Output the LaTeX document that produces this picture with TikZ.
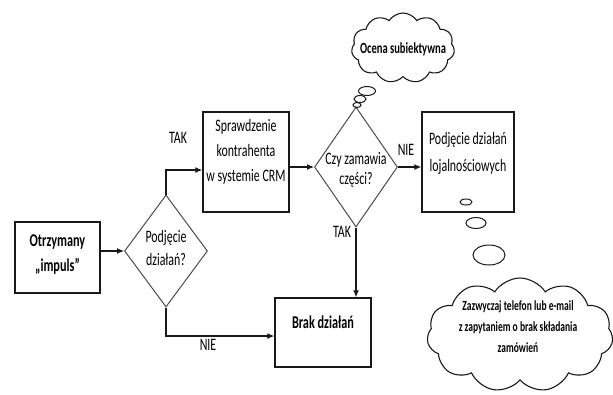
\documentclass[tikz,border=0pt]{standalone}
\usepackage{fontspec}
\setmainfont{Carlito}[FakeStretch=0.68]
\usetikzlibrary{shapes.geometric,shapes.symbols,arrows.meta}
\definecolor{lineblack}{RGB}{25,25,25}
\definecolor{diamgray}{RGB}{75,75,75}

\begin{document}
\begin{tikzpicture}[x=1pt,y=-1pt,
  box/.style={draw=lineblack,line width=1.4pt,inner sep=0pt},
  decision/.style={diamond,draw=diamgray,line width=1pt,inner sep=0pt},
  txt/.style={align=center,font=\fontsize{17.5}{25}\selectfont},
  yesno/.style={font=\fontsize{17.5}{18}\selectfont},
  thought/.style={cloud,cloud puffs=11,cloud puff arc=115,aspect=1.6,draw=lineblack,line width=1.1pt,inner sep=0pt},
  arr/.style={-{Latex[length=7pt,width=6pt]},draw=lineblack,line width=1.2pt}]
  \useasboundingbox (0,0) rectangle (613,394);
  % boxes
  \node[box,minimum width=85pt,minimum height=71pt] (start) at (57.5,257.5) {};
  \node[txt,font=\fontsize{18}{25}\selectfont\bfseries] (startt) at (57.5,255) {Otrzymany\\„impuls”};
  \node[box,minimum width=86pt,minimum height=100pt] (check) at (246,162) {};
  \node[txt] (checkt) at (246,152) {Sprawdzenie\\kontrahenta\\w systemie CRM};
  \node[box,minimum width=92pt,minimum height=100pt] (loyal) at (468,162) {};
  \node[txt,font=\fontsize{17.5}{27}\selectfont] (loyalt) at (468,153) {Podjęcie działań\\lojalnościowych};
  \node[box,minimum width=96pt,minimum height=69pt] (none) at (323,332.5) {};
  \node[txt,font=\fontsize{18}{25}\selectfont\bfseries] (nonet) at (323,322) {Brak działań};
  % decisions
  \node[decision,minimum width=83pt,minimum height=112pt] (act) at (166,251) {};
  \node[txt,font=\fontsize{17.5}{23}\selectfont] (actt) at (166,248) {Podjęcie\\działań?};
  \node[decision,minimum width=83pt,minimum height=120pt] (order) at (356,167) {};
  \node[txt,font=\fontsize{17.5}{20}\selectfont] (ordert) at (356,170) {Czy zamawia\\części?};
  % connectors
  \draw[arr] (start.east |- act.west) -- (act.west);
  \draw[arr] (act.north) |- ([yshift=-8pt]check.west);
  \draw[arr] (check.east |- order.west) -- (order.west);
  \draw[arr] (order.east) -- (order.east -| loyal.west);
  \draw[arr] (order.south) -- (order.south |- none.north);
  \draw[arr] (act.south) |- ([yshift=-3.5pt]none.west);
  \node[yesno] (yes1) at (178,138) {TAK};
  \node[yesno] (no1) at (208,345) {NIE};
  \node[yesno] (no2) at (406,150) {NIE};
  \node[yesno] (yes2) at (342,232) {TAK};
  % thought clouds
  \node[thought,minimum width=103pt,minimum height=70pt] (judge) at (403,48) {};
  \node[font=\fontsize{15.5}{15}\selectfont\bfseries] (judget) at (403,49) {Ocena subiektywna};
  \foreach \x/\y/\a/\b in {367/91/8.5/4.5,360/99/6/3.5,357/105/4/2.5}
    \draw[lineblack,line width=1pt] (\x,\y) ellipse ({\a pt} and {\b pt});
  \node[thought,minimum width=186pt,minimum height=114pt] (call) at (520,335) {};
  \node[txt,font=\fontsize{14}{21}\selectfont\bfseries] (callt) at (518,327) {Zazwyczaj telefon lub e-mail\\z zapytaniem o brak składania\\zamówień};
  \foreach \x/\y/\a/\b in {466/202/6/3,476/223/10/5.5,489/255/16/10}
    \draw[lineblack,line width=1pt] (\x,\y) ellipse ({\a pt} and {\b pt});
\end{tikzpicture}
\end{document}
